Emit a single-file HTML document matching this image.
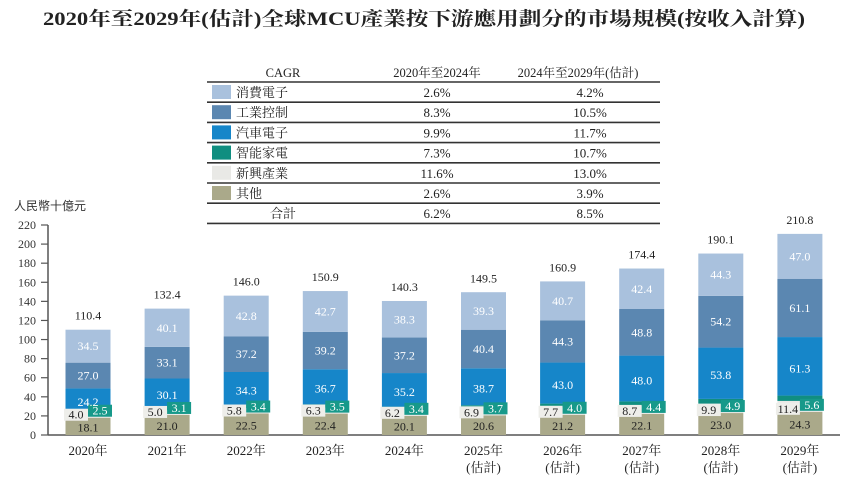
<!DOCTYPE html>
<html><head><meta charset="utf-8">
<style>
html,body{margin:0;padding:0;background:#fff;}
svg{display:block;font-family:"Liberation Serif","Noto Serif CJK SC",serif;}
</style></head>
<body>
<svg id="chart" width="847" height="482" viewBox="0 0 847 482" xmlns="http://www.w3.org/2000/svg">
<text x="424" y="25" text-anchor="middle" font-size="19" font-weight="bold" fill="#222" textLength="762" lengthAdjust="spacingAndGlyphs">2020年至2029年(估計)全球MCU產業按下游應用劃分的市場規模(按收入計算)</text>
<g id="legend-table"></g>
<text x="14" y="210" font-size="12" fill="#333" font-family="'Liberation Sans','Noto Sans CJK TC',sans-serif">人民幣十億元</text>
<g id="axis"></g>
<g id="bars"></g>
<g id="labels"></g>
</svg>
<script>
const years = ["2020年","2021年","2022年","2023年","2024年","2025年","2026年","2027年","2028年","2029年"];
const estimated = [false,false,false,false,false,true,true,true,true,true];
const others = [18.1,21.0,22.5,22.4,20.1,20.6,21.2,22.1,23.0,24.3];
const emerging = [4.0,5.0,5.8,6.3,6.2,6.9,7.7,8.7,9.9,11.4];
const smartHome = [2.5,3.1,3.4,3.5,3.4,3.7,4.0,4.4,4.9,5.6];
const automotive = [24.2,30.1,34.3,36.7,35.2,38.7,43.0,48.0,53.8,61.3];
const industrial = [27.0,33.1,37.2,39.2,37.2,40.4,44.3,48.8,54.2,61.1];
const consumer = [34.5,40.1,42.8,42.7,38.3,39.3,40.7,42.4,44.3,47.0];
const totals = [110.4,132.4,146.0,150.9,140.3,149.5,160.9,174.4,190.1,210.8];
const yTicks = [0,20,40,60,80,100,120,140,160,180,200,220];
const legendNames = ["消費電子","工業控制","汽車電子","智能家電","新興產業","其他","合計"];
const cagr1 = ["2.6%","8.3%","9.9%","7.3%","11.6%","2.6%","6.2%"];
const cagr2 = ["4.2%","10.5%","11.7%","10.7%","13.0%","3.9%","8.5%"];

const NS="http://www.w3.org/2000/svg";
const colors=["#a9c1dd","#5b87b1","#1686c9","#108e80","#e9e9e6","#aaa98a",null];
const y0=435, pxPerUnit=210/220;
function yS(v){return y0 - v*pxPerUnit;}
function xC(i){return 88 + i*79.1;}
const barW=45;
function mk(tag,attrs,parent){const e=document.createElementNS(NS,tag);for(const k in attrs)e.setAttribute(k,attrs[k]);parent.appendChild(e);return e;}

const ax=document.getElementById('axis');
const axl=mk('line',{x1:48,y1:yS(220),x2:48,y2:y0,stroke:'#555','stroke-width':1.5},ax);


const bl=mk('line',{x1:48,y1:y0,x2:840,y2:y0,stroke:'#555','stroke-width':1.5},ax);


yTicks.forEach(t=>{
  const tl=mk('line',{x1:41,y1:yS(t),x2:48,y2:yS(t),stroke:'#555','stroke-width':1.2},ax);
  
  
  const tx=mk('text',{x:36,y:yS(t)+4,'text-anchor':'end','font-size':12,fill:'#333'},ax);
  tx.textContent=t;
  
  
});

const bg=document.getElementById('bars');
const lg=document.getElementById('labels');
const seriesList=[others,emerging,smartHome,automotive,industrial,consumer];
const segColors=["#aaa98a","#e9e9e6","#108e80","#1686c9","#5b87b1","#a9c1dd"];
const segNames=["others","emerging","smart-home","automotive","industrial","consumer"];
years.forEach((yr,i)=>{
  const cx=xC(i);
  let acc=0;
  const g=mk('g',{},bg);
  
  
  const pending=[];
  seriesList.forEach((s,k)=>{
    const v=s[i];
    const r=mk('rect',{x:cx-barW/2,y:yS(acc+v),width:barW,height:v*pxPerUnit,fill:segColors[k]},g);
    
    
    let lx=cx, ly=yS(acc+v/2)+4, col='#fff', bgc=null;
    if(k===0){col='#222'; ly=yS(acc+v/2)+5;}
    if(k===1){lx=cx-12; ly=yS(acc)+1; col='#222'; bgc='#eeeeea';}
    if(k===2){lx=cx+12; ly=yS(acc-emerging[i])-3; col='#fff'; bgc='#17998a';}
    if(k===3){ly=yS(acc+v/2)+6;}
    pending.push([k,v,lx,ly,col,bgc]);
    acc+=v;
  });
  pending.forEach(p=>{
    const [k,v,lx,ly,col,bgc]=p;
    if(bgc){
      const b=mk('rect',{x:lx-12,y:ly-10,width:24,height:12,fill:bgc},lg);
      
      
    }
    const t=mk('text',{x:lx,y:ly,'text-anchor':'middle','font-size':12,fill:col},lg);
    t.textContent=v.toFixed(1);
    
    
  });
  const tt=mk('text',{x:cx,y:yS(totals[i])-10,'text-anchor':'middle','font-size':12,fill:'#222'},lg);
  tt.textContent=totals[i].toFixed(1);
  
  
  const xl=mk('text',{x:cx,y:455,'text-anchor':'middle','font-size':13,fill:'#222'},lg);
  xl.textContent=yr;
  
  
  if(estimated[i]){
    const e=mk('text',{x:cx,y:472,'text-anchor':'middle','font-size':13,fill:'#222'},lg);
    e.textContent='(估計)';
    
    
  }
});

const lt=document.getElementById('legend-table');
const hdr=[["CAGR",283],["2020年至2024年",437],["2024年至2029年(估計)",578]];
hdr.forEach(h=>{
  const t=mk('text',{x:h[1],y:77,'text-anchor':'middle','font-size':12.5,fill:'#222'},lt);
  t.textContent=h[0];
  
  
});
for(let r=0;r<=7;r++){
  const l=mk('line',{x1:207,x2:660,y1:82+r*20.2,y2:82+r*20.2,stroke:'#333','stroke-width':1.6},lt);
  
  
}
legendNames.forEach((n,r)=>{
  const yc=92+r*20.2;
  if(colors[r]){
    const sw=mk('rect',{x:212,y:yc-7,width:19,height:14,fill:colors[r]},lt);
    
    
  }
  const t=mk('text',{x:colors[r]?236:283,y:yc+5,'text-anchor':colors[r]?'start':'middle','font-size':13,fill:'#222'},lt);
  t.textContent=n;
  
  
  const a=mk('text',{x:437,y:yc+5,'text-anchor':'middle','font-size':13,fill:'#222'},lt);
  a.textContent=cagr1[r];
  
  
  const b=mk('text',{x:590,y:yc+5,'text-anchor':'middle','font-size':13,fill:'#222'},lt);
  b.textContent=cagr2[r];
  
  
});
</script>
</body></html>
